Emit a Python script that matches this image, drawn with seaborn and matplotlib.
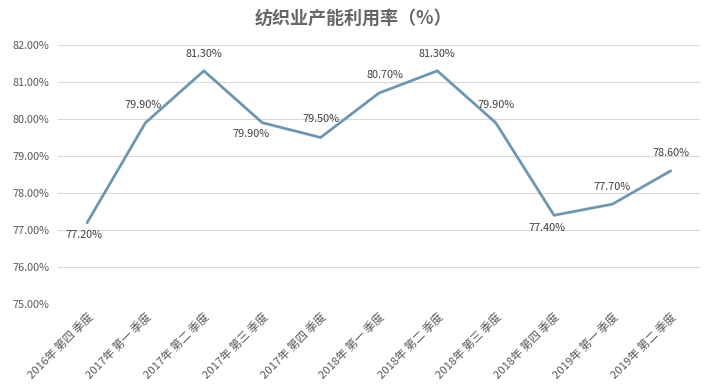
import matplotlib
matplotlib.use("Agg")
import matplotlib.pyplot as plt
import pandas as pd
import seaborn as sns

# Данные
quarters = [
    "2016年 第四 季度", "2017年 第一 季度", "2017年 第二 季度", "2017年 第三 季度",
    "2017年 第四 季度", "2018年 第一 季度", "2018年 第二 季度", "2018年 第三 季度",
    "2018年 第四 季度", "2019年 第一 季度", "2019年 第二 季度",
]
rates = [77.2, 79.9, 81.3, 79.9, 79.5, 80.7, 81.3, 79.9, 77.4, 77.7, 78.6]
# смещение подписей (пункты): dx, dy
label_dx = [-2, -2, 0, -8, 0, 4, 0, 0, -5, 0, 0]
label_dy = [-9, 13, 12, -8, 13, 13, 12, 13, -9, 12, 13]

sns.set_theme(style="white")
plt.rcParams["font.family"] = ["Noto Sans CJK SC", "DejaVu Sans"]
plt.rcParams["axes.unicode_minus"] = False

df = pd.DataFrame({"quarter": quarters, "rate": rates})

fig = plt.figure(figsize=(7.07, 3.84), dpi=100)
ax = fig.add_axes([0.082, 0.208, 0.908, 0.675])

line_color = "#6e96b0"
sns.lineplot(data=df, x="quarter", y="rate", color=line_color, linewidth=2.0, ax=ax)

for i, v in enumerate(rates):
    ax.annotate(f"{v:.2f}%", (i, v), xytext=(label_dx[i], label_dy[i]),
                textcoords="offset points", ha="center", va="center",
                fontsize=7.8, color="#404040")

ax.set_xlim(-0.5, len(quarters) - 0.5)
ax.set_ylim(75, 82)
ax.set_yticks(range(75, 83))
ax.set_yticklabels([f"{t:.2f}%" for t in range(75, 83)])
ax.set_xticks(range(len(quarters)))
ax.set_xticklabels(quarters, rotation=45, ha="right", rotation_mode="anchor")
ax.tick_params(axis="y", length=0, labelsize=7.8, labelcolor="#595959", pad=6)
ax.tick_params(axis="x", length=0, labelsize=8.2, labelcolor="#595959", pad=5)
ax.set_xlabel("")
ax.set_ylabel("")

ax.grid(axis="y", color="#d9d9d9", linewidth=0.8)
ax.set_axisbelow(True)
for s in ax.spines.values():
    s.set_visible(False)

fig.text(0.5, 0.953, "纺织业产能利用率（%）", ha="center", va="center",
         fontsize=13, color="#666666", fontweight="bold")

fig.savefig("out.png", dpi=100)
